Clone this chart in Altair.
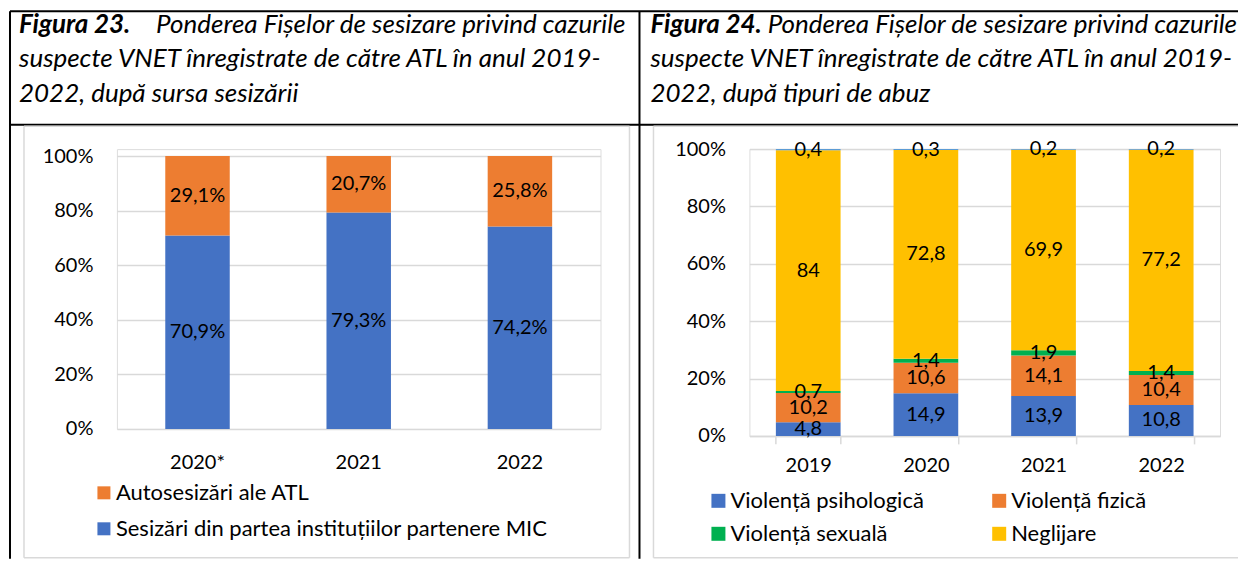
import altair as alt
import pandas as pd

FONT = "Lato"
BLUE = "#4472C4"
ORANGE = "#ED7D31"
GREEN = "#00B050"
GOLD = "#FFC000"
LBLUE = "#5B9BD5"
GRID = "#D9D9D9"

# ---------------- data ----------------
years_left = ["2020*", "2021", "2022"]
series_left = ["Autosesizări ale ATL", "Sesizări din partea instituțiilor partenere MIC"]
sesizari_mic = [70.9, 79.3, 74.2]
autosesizari_atl = [29.1, 20.7, 25.8]

years_right = ["2019", "2020", "2021", "2022"]
series_right = ["Violență psihologică", "Violență fizică", "Violență sexuală", "Neglijare", "Altele"]
psihologica = [4.8, 14.9, 13.9, 10.8]
fizica = [10.2, 10.6, 14.1, 10.4]
sexuala = [0.7, 1.4, 1.9, 1.4]
neglijare = [84, 72.8, 69.9, 77.2]
altele = [0.4, 0.3, 0.2, 0.2]

y_ticks = [0, 0.2, 0.4, 0.6, 0.8, 1.0]

title_left = ["Figura 23.", "Ponderea Fișelor de sesizare privind cazurile",
              "suspecte VNET înregistrate de către ATL în anul 2019-",
              "2022, după sursa sesizării"]
title_right = ["Figura 24.", "Ponderea Fișelor de sesizare privind cazurile",
               "suspecte VNET înregistrate de către ATL în anul 2019-",
               "2022, după tipuri de abuz"]


def fmt(v):
    return f"{v:g}".replace(".", ",")


rows = []
for i, yr in enumerate(years_left):
    rows.append(dict(year=yr, series=series_left[1], value=sesizari_mic[i], order=0,
                     label=fmt(sesizari_mic[i]) + "%"))
    rows.append(dict(year=yr, series=series_left[0], value=autosesizari_atl[i], order=1,
                     label=fmt(autosesizari_atl[i]) + "%"))
df_left = pd.DataFrame(rows)

rows = []
right_values = [psihologica, fizica, sexuala, neglijare, altele]
for i, yr in enumerate(years_right):
    for k, s in enumerate(series_right):
        v = right_values[k][i]
        rows.append(dict(year=yr, series=s, value=v, order=k, label=fmt(v)))
df_right = pd.DataFrame(rows)

one = pd.DataFrame({"k": [0]})


def hrule(x1, x2, y, color="black", w=2):
    return alt.Chart(one).mark_rule(color=color, strokeWidth=w).encode(
        x=alt.value(x1), x2=alt.value(x2), y=alt.value(y))


def vrule(x, y1, y2, color="black", w=2):
    return alt.Chart(one).mark_rule(color=color, strokeWidth=w).encode(
        x=alt.value(x), y=alt.value(y1), y2=alt.value(y2))


TSIZE = 26


def txt(s, x, y, align="left", weight="normal"):
    return alt.Chart(pd.DataFrame({"t": [s]})).mark_text(
        font=FONT, fontSize=TSIZE, fontStyle="italic", fontWeight=weight,
        align=align, baseline="middle", color="black").encode(
        text="t:N", x=alt.value(x), y=alt.value(y))


y_axis = alt.Axis(values=y_ticks, format=".0%", title=None, domain=False, ticks=False,
                  tickSize=0, labelPadding=24, grid=True, gridColor=GRID, gridWidth=1.5,
                  labelFont=FONT, labelFontSize=20, labelColor="black")

# ---------------- left chart (origin at page 116,148) ----------------
LW, LH = 484, 280
x_left_scale = alt.Scale(paddingInner=0.6, paddingOuter=0.3)
x_left_axis = alt.Axis(title=None, labelAngle=0, domain=False, ticks=False, tickSize=0,
                       labelPadding=24, labelFont=FONT, labelFontSize=20, labelColor="black")
y_left_scale = alt.Scale(domain=[0, 280 / 273], nice=False, zero=True)

base_l = alt.Chart(df_left).transform_stack(
    stack="value", groupby=["year"], sort=[alt.SortField("order")],
    offset="normalize", as_=["y0", "y1"]
).transform_calculate(mid="(datum.y0 + datum.y1) / 2")

bars_l = base_l.mark_bar().encode(
    x=alt.X("year:N", sort=years_left, scale=x_left_scale, axis=x_left_axis),
    y=alt.Y("y0:Q", scale=y_left_scale, axis=y_axis),
    y2="y1:Q",
    color=alt.Color("series:N", scale=alt.Scale(domain=series_left, range=[ORANGE, BLUE]),
                    legend=alt.Legend(orient="none", legendX=-24, legendY=333, direction="vertical",
                                      title=None, symbolType="square", symbolSize=169,
                                      symbolStrokeWidth=0, labelFont=FONT, labelFontSize=22,
                                      labelColor="black", labelOffset=1, rowPadding=14,
                                      padding=0, labelLimit=0)),
)
labels_l = base_l.mark_text(font=FONT, fontSize=20, color="black").encode(
    x=alt.X("year:N", sort=years_left, scale=x_left_scale, axis=x_left_axis),
    y=alt.Y("mid:Q", scale=y_left_scale, axis=y_axis),
    text="label:N",
)

frame = [
    hrule(-107, 1122, -138),           # top border
    hrule(-107, 1122, -24.5),          # header bottom
    vrule(-107, -138, 410),            # left border
    vrule(523, -138, 410),             # divider
    # light boxes
    hrule(-93, 513, -23, GRID, 1.5), hrule(-93, 513, 409, GRID, 1.5),
    vrule(-93, -23, 409, GRID, 1.5), vrule(513, -23, 409, GRID, 1.5),
    hrule(537, 1122, -23, GRID, 1.5), hrule(537, 1122, 409, GRID, 1.5),
    vrule(537, -23, 409, GRID, 1.5),
]
titles_l = [
    txt(title_left[0], -98, -124, weight="bold"),
    txt(title_left[1], 509, -124, align="right"),
    txt(title_left[2], -98, -90),
    txt(title_left[3], -98, -55),
]

left = alt.layer(*frame, bars_l, labels_l, *titles_l).properties(width=LW, height=LH)

# ---------------- right chart (origin at page 749,148) ----------------
RW, RH = 471, 287
x_right_scale = alt.Scale(paddingInner=0.45, paddingOuter=0.225)
x_right_axis = alt.Axis(title=None, labelAngle=0, domain=True, domainColor=GRID, domainWidth=1.5,
                        ticks=True, tickColor=GRID, tickWidth=1.5, tickSize=8, tickBand="extent",
                        labelPadding=12, labelFont=FONT, labelFontSize=20, labelColor="black")
y_right_scale = alt.Scale(domain=[0, 1], nice=False, zero=True)

base_r = alt.Chart(df_right).transform_stack(
    stack="value", groupby=["year"], sort=[alt.SortField("order")],
    offset="normalize", as_=["y0", "y1"]
).transform_calculate(mid="(datum.y0 + datum.y1) / 2")

bars_r = base_r.mark_bar().encode(
    x=alt.X("year:N", sort=years_right, scale=x_right_scale, axis=x_right_axis),
    y=alt.Y("y0:Q", scale=y_right_scale, axis=y_axis),
    y2="y1:Q",
    color=alt.Color("series:N",
                    scale=alt.Scale(domain=series_right, range=[BLUE, ORANGE, GREEN, GOLD, LBLUE]),
                    legend=alt.Legend(orient="none", legendX=-42, legendY=341, direction="horizontal",
                                      columns=2, values=series_right[:4], title=None,
                                      symbolType="square", symbolSize=196, symbolStrokeWidth=0,
                                      labelFont=FONT, labelFontSize=22, labelColor="black",
                                      labelOffset=1, rowPadding=11, columnPadding=64,
                                      padding=0, labelLimit=0)),
)
labels_r = base_r.mark_text(font=FONT, fontSize=20, color="black").encode(
    x=alt.X("year:N", sort=years_right, scale=x_right_scale, axis=x_right_axis),
    y=alt.Y("mid:Q", scale=y_right_scale, axis=y_axis),
    text="label:N",
)
titles_r = [
    txt(title_right[0], -99, -124, weight="bold"),
    txt(title_right[1], 488, -124, align="right"),
    txt(title_right[2], -99, -90),
    txt(title_right[3], -99, -55),
]

right = alt.layer(bars_r, labels_r, *titles_r).properties(width=RW, height=RH)

chart = alt.hconcat(left, right, spacing=149, bounds="flush").resolve_scale(
    color="independent", x="independent", y="independent"
).resolve_legend(color="independent").properties(
    padding={"left": 0, "top": 1, "right": 0, "bottom": 0}
).configure_view(stroke=None).configure(font=FONT)

chart.save("out.html", embed_options={"renderer": "svg", "actions": False})
